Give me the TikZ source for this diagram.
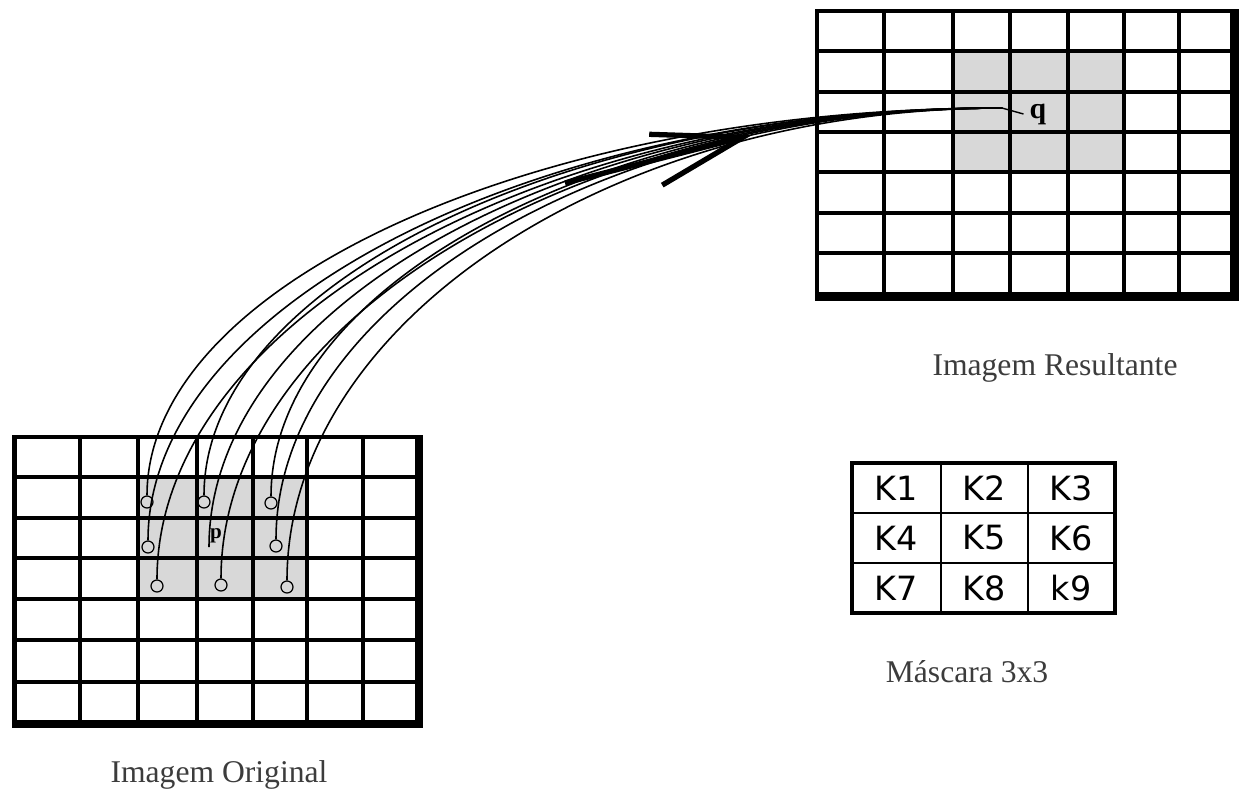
\documentclass[tikz,border=0pt]{standalone}
\usepackage{fontspec}
\setmainfont{Liberation Serif}
\newfontfamily\maskfont{DejaVu Sans}
\usetikzlibrary{arrows.meta}
\definecolor{cellgray}{RGB}{216,216,216}
\definecolor{capgray}{RGB}{60,60,60}

\begin{document}
\begin{tikzpicture}[x=0.02cm, y=-0.02cm,
    gridline/.style={line width=2pt},
    heavyline/.style={line width=2.8pt},
    pix/.style={draw, circle, line width=0.7pt, minimum size=0.24cm, inner sep=0pt},
    conn/.style={line width=0.9pt},
    caption/.style={anchor=base, text=capgray, font=\fontsize{18}{21}\selectfont},
    kcell/.style={font=\maskfont\fontsize{19}{22}\selectfont}]
    \useasboundingbox (0,0) rectangle (1239,789);

    % Original image grid
    \fill[cellgray] (138,477) rectangle (307,599);
    \foreach \x in {80,197,253,307,363} \draw[gridline] (\x,437) -- (\x,724);
    \foreach \y in {477,518,558,640,682} \draw[gridline] (15,\y) -- (419,\y);
    \draw[heavyline] (138,437) -- (138,724);
    \draw[heavyline] (15,599) -- (419,599);
    \draw[line width=2.5pt] (419,437) -- (14.5,437) -- (14.5,724);
    \draw[line width=4.3pt] (419,435) -- (419,724) -- (12,724);

    % Resulting image grid
    \fill[cellgray] (953,51) rectangle (1124,172);
    \foreach \x in {953,1010,1124,1179} \draw[gridline] (\x,11) -- (\x,296);
    \foreach \y in {51,92,132,172,213,253} \draw[gridline] (817,\y) -- (1234,\y);
    \draw[heavyline] (884,11) -- (884,296);
    \draw[heavyline] (1068,11) -- (1068,296);
    \draw[line width=2.3pt] (1234,11) -- (817,11) -- (817,296);
    \draw[line width=5pt] (1234.5,9) -- (1234.5,296.5) -- (815,296.5);

    % Pixels of the 3x3 neighbourhood
    \node[pix] (c1) at (147,502) {};
    \node[pix] (c2) at (204,502) {};
    \node[pix] (c3) at (271,503) {};
    \node[pix] (c4) at (148,547) {};
    \coordinate (c5) at (209,547);
    \node[pix] (c6) at (276,546) {};
    \node[pix] (c7) at (157,586) {};
    \node[pix] (c8) at (221,585) {};
    \node[pix] (c9) at (287,587) {};
    \node[font=\bfseries\fontsize{12}{14}\selectfont] (p) at (216,536) {p};

    % Target pixel
    \coordinate (qend) at (1002,108);
    \node[font=\bfseries\fontsize{17}{20}\selectfont] (q) at (1038,114) {q};
    \draw[line width=0.8pt] (qend) -- (q.west);

    % Mapping curves
    \draw[conn] (c1) .. controls +(0,-217) and +(-470,0) .. (qend);
    \draw[conn] (c2) .. controls +(0,-217) and +(-439,0) .. (qend);
    \draw[conn] (c3) .. controls +(0,-217) and +(-402,0) .. (qend);
    \draw[conn] (c4) .. controls +(0,-241) and +(-470,0) .. (qend);
    \draw[conn] (c5) .. controls +(0,-241) and +(-436,0) .. (qend);
    \draw[conn] (c6) .. controls +(0,-241) and +(-399,0) .. (qend);
    \draw[conn] (c7) .. controls +(0,-263) and +(-465,0) .. (qend);
    \draw[conn] (c8) .. controls +(0,-262) and +(-430,0) .. (qend);
    \draw[conn] (c9) .. controls +(0,-263) and +(-393,0) .. (qend);

    % Big arrow over the bundle
    \coordinate (tail) at (565,183);
    \coordinate (tip) at (752,135);
    \draw[line width=3pt, -{Straight Barb[length=1.8cm, width=1.05cm]}] (tail) -- (tip);

    % Mask 3x3
    \draw[line width=0.9pt] (941,463) -- (941,613) (1028,463) -- (1028,613)
        (852,513) -- (1115,513) (852,563) -- (1115,563);
    \draw[line width=1.8pt] (852,463) rectangle (1115,613);
    \foreach \t/\x/\y in {K1/896/488, K2/984/488, K3/1071/488,
                          K4/896/538, K5/984/538, K6/1071/538,
                          K7/896/588, K8/984/588, k9/1071/588}
        \node[kcell] (m\t) at (\x,\y) {\t};

    % Labels
    \node[caption] (lblRes) at (1055,375) {Imagem Resultante};
    \node[caption] (lblMask) at (967,682) {Máscara 3x3};
    \node[caption] (lblOrig) at (219,782) {Imagem Original};
\end{tikzpicture}
\end{document}
